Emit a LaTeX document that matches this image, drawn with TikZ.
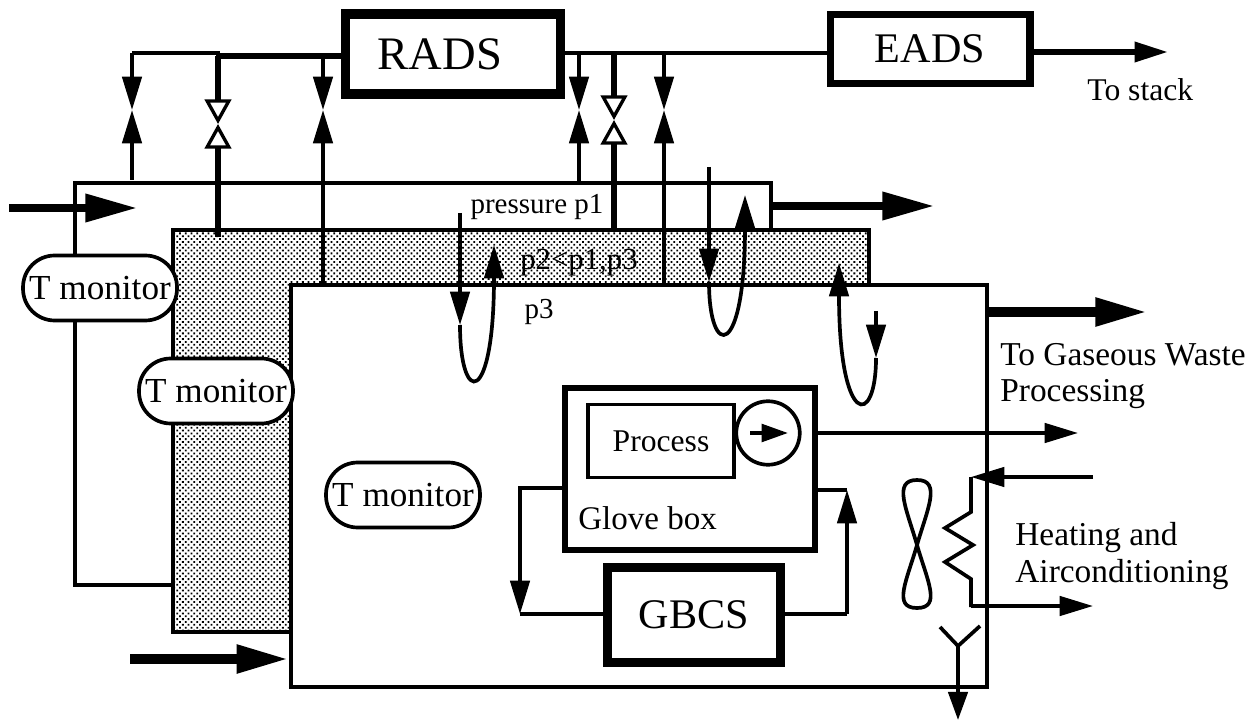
\documentclass[tikz,border=0pt]{standalone}
\usepackage{fontspec}
\setmainfont{Liberation Serif}
\usetikzlibrary{arrows.meta,patterns.meta}
\tikzset{
    vtip/.tip={Triangle[length=19pt,width=11pt]},
    otip/.tip={Triangle[open,length=14pt,width=15pt,line width=1.9pt]},
    htip/.tip={Triangle[length=19pt,width=11pt]},
    btip/.tip={Triangle[length=30pt,width=15pt]},
    pipe/.style={line width=2.1pt},
    fat/.style={line width=3.2pt},
    big/.style={line width=5pt,-btip},
    bigger/.style={line width=5.8pt,-btip},
    room/.style={draw,line width=2.1pt,fill=white,minimum width=13.92cm,minimum height=8.04cm},
    monitor/.style={draw,line width=2.1pt,fill=white,rounded corners=18pt,minimum width=3.08cm,minimum height=1.3cm,font=\fontsize{20}{22}\selectfont,inner sep=0pt},
    unit/.style={draw,fill=white,inner sep=0pt,font=\fontsize{24}{26}\selectfont},
    txt/.style={inner sep=0pt,align=left,font=\fontsize{19}{21}\selectfont},
    small/.style={inner sep=0pt,font=\fontsize{16.5}{18}\selectfont}
}
\begin{document}
\begin{tikzpicture}[x=0.02cm,y=-0.02cm]
    \useasboundingbox (0,0) rectangle (1256,722);
    \node[room] (room1) at (423,384) {};
    \node[room,preaction={fill=white},pattern={Dots[radius=.72pt,distance=2.3pt,angle=45]}] (room2) at (521,431) {};
    \node[room] (room3) at (639,486) {};
    \node[unit,line width=5.5pt,minimum width=4.3cm,minimum height=1.6cm] (rads) at (453,54) {};
    \node[inner sep=0pt,font=\fontsize{26.5}{28}\selectfont] (radstxt) at (440,54) {RADS};
    \node[unit,line width=4pt,minimum width=4cm,minimum height=1.38cm] (eads) at (930,49) {EADS};
    \node[unit,line width=3.2pt,minimum width=5cm,minimum height=3.24cm] (glove) at (690,469) {};
    \node[unit,line width=2.1pt,minimum width=2.92cm,minimum height=1.46cm,font=\fontsize{18}{20}\selectfont] (process) at (661,441) {Process};
    \node[draw,circle,line width=2.1pt,fill=white,minimum size=1.27cm,inner sep=0pt] (pump) at (768,433) {};
    \node[unit,line width=5pt,minimum width=3.46cm,minimum height=1.9cm] (gbcs) at (694,615) {GBCS};
    \node[monitor] (mon1) at (100,288) {T monitor};
    \node[monitor] (mon2) at (216,391) {T monitor};
    \node[monitor] (mon3) at (403,495) {T monitor};
    \node[txt,font=\fontsize{18.8}{21}\selectfont,anchor=west] (glovetxt) at (578,518) {Glove box};
    \node[txt,font=\fontsize{18}{20}\selectfont,anchor=west] (stack) at (1087,90) {To stack};
    \node[txt,anchor=west] (waste) at (1000,376) {To Gaseous Waste\\Processing};
    \node[txt,anchor=west] (hvac) at (1015,556) {Heating and\\Airconditioning};
    \node[small] (p1) at (537,207) {pressure p1};
    \node[small,font=\fontsize{17.5}{19}\selectfont] (p2) at (579,263) {p2<p1,p3};
    \node[small] (p3) at (539,312) {p3};
    \coordinate (jl) at (218,56);
    \coordinate (jk) at (132,53);
    \coordinate (jr) at (579,53);
    \coordinate (v1) at (132,110);
    \coordinate (v2) at (218,124);
    \coordinate (v3) at (323,110);
    \coordinate (v4) at (579,110);
    \coordinate (v5) at (614,120);
    \coordinate (v6) at (664,110);
    \coordinate (s1) at (132,180);
    \coordinate (s2) at (218,237);
    \coordinate (s3) at (323,285);
    \coordinate (s4) at (579,182);
    \coordinate (s5) at (614,230);
    \coordinate (s6) at (664,285);
    \draw[fat] (rads.west |- jl) -- (jl);
    \draw[pipe] (jl) -- (jl |- jk) -- (jk);
    \draw[pipe] (rads.east |- jr) -- (eads.west |- jr);
    \draw[pipe,-vtip] (jk) -- (v1);
    \draw[pipe,-vtip] (s1) -- (v1);
    \draw[fat,-otip] (jl) -- (v2);
    \draw[fat,-otip] (s2) -- (v2);
    \draw[pipe,-vtip] (v3 |- jl) -- (v3);
    \draw[pipe,-vtip] (s3) -- (v3);
    \draw[pipe,-vtip] (jr) -- (v4);
    \draw[pipe,-vtip] (s4) -- (v4);
    \draw[fat,-otip] (v5 |- jr) -- (v5);
    \draw[fat,-otip] (s5) -- (v5);
    \draw[pipe,-vtip] (v6 |- jr) -- (v6);
    \draw[pipe,-vtip] (s6) -- (v6);
    \coordinate (in1) at (9,208);
    \coordinate (in1tip) at (138,208);
    \coordinate (in3) at (130,659);
    \coordinate (out1) at (935,206);
    \coordinate (out3) at (1148,312);
    \coordinate (stacktip) at (1168,52);
    \draw[big] (in1) -- (in1tip);
    \draw[bigger] (in3) -- (room3.west |- in3);
    \draw[big] (room1.east |- out1) -- (out1);
    \draw[bigger] (room3.east |- out3) -- (out3);
    \draw[fat,-vtip] (eads.east |- stacktip) -- (stacktip);
    \coordinate (a1) at (460,213);
    \coordinate (a1tip) at (460,325);
    \coordinate (b1tip) at (494,245);
    \coordinate (a2) at (709,167);
    \coordinate (a2tip) at (709,282);
    \coordinate (b2tip) at (745,195);
    \coordinate (a3) at (876,311);
    \coordinate (a3tip) at (876,358);
    \coordinate (b3tip) at (839,263);
    \draw[pipe,-vtip] (a1) -- (a1tip);
    \draw[pipe,-vtip] (a1tip) .. controls (460,407) and (494,407) .. (b1tip);
    \draw[pipe,-vtip] (a2) -- (a2tip);
    \draw[pipe,-vtip] (a2tip) .. controls (709,360) and (745,360) .. (b2tip);
    \draw[pipe,-vtip] (a3) -- (a3tip);
    \draw[pipe,-vtip] (a3tip) .. controls (876,428) and (839,428) .. (b3tip);
    \coordinate (g1) at (520,488);
    \coordinate (g2) at (520,614);
    \coordinate (g3) at (847,614);
    \coordinate (g4) at (847,490);
    \draw[pipe,-vtip] (glove.west |- g1) -- (g1) -- (g2);
    \draw[pipe] (g2) -- (gbcs.west |- g2);
    \draw[pipe] (gbcs.east |- g3) -- (g3);
    \draw[pipe,-vtip] (g3) -- (g4);
    \draw[pipe] (g4) -- (glove.east |- g4);
    \coordinate (pout) at (1078,433);
    \coordinate (pa) at (750,433);
    \coordinate (pb) at (788,433);
    \draw[pipe,-{Triangle[length=15pt,width=10pt]}] (pa) -- (pb);
    \draw[pipe,-htip] (glove.east |- pout) -- (pout);
    \coordinate (h1) at (971,477);
    \coordinate (h2) at (971,607);
    \coordinate (hin) at (1093,477);
    \coordinate (hout) at (1093,606);
    \draw[pipe,-htip] (hin) -- (h1);
    \draw[pipe,-htip] (h2 |- hout) -- (hout);
    \draw[pipe] (h1) -- (971,512) -- (945,528) -- (973,545) -- (945,562) -- (971,579) -- (h2);
    \coordinate (fan) at (917,545);
    \draw[pipe] (fan) .. controls (907,510) and (892,480) .. (917,480) .. controls (942,480) and (927,510) .. (fan)
        .. controls (907,580) and (892,608) .. (917,608) .. controls (942,608) and (927,580) .. (fan);
    \coordinate (yj) at (958,646);
    \coordinate (yl) at (940,627);
    \coordinate (yr) at (980,626);
    \coordinate (ytip) at (958,720);
    \draw[pipe] (yl) -- (yj) -- (yr);
    \draw[pipe,-{Triangle[length=16pt,width=11pt]}] (yj) -- (ytip);
\end{tikzpicture}
\end{document}
